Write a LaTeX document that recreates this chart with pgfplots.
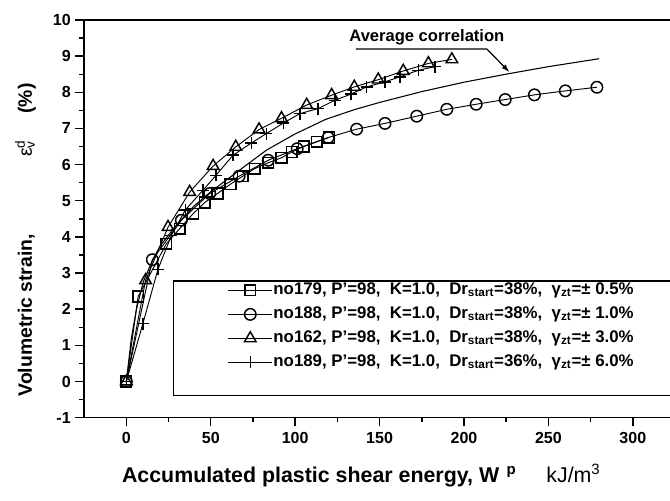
\documentclass[border=0pt]{standalone}
\usepackage{fontspec}
\setmainfont{Liberation Sans}
\usepackage{pgfplots}
\pgfplotsset{compat=1.18}
\usetikzlibrary{arrows.meta}

% Volumetric strain against accumulated plastic shear energy
\pgfplotstableread{
W      ev
0      0
7      2.35
23.7   3.81
31.6   4.23
39.5   4.64
46.4   4.95
54     5.20
61.7   5.46
69     5.68
76.1   5.89
84     6.05
91.9   6.19
98     6.35
105    6.50
112.7  6.63
120    6.75
}\noOneSevenNine

\pgfplotstableread{
W      ev
0      0
15.4   3.37
32.6   4.46
49.4   5.20
66.8   5.68
84     6.12
101.2  6.44
119.6  6.75
136.4  6.98
153.2  7.14
172    7.34
189.8  7.53
207.2  7.67
224.4  7.80
241.7  7.93
260    8.04
278.7  8.14
}\noOneEightEight

\pgfplotstableread{
W      ev
0      0
11.4   2.80
24.7   4.27
37.5   5.24
51.4   5.96
64.8   6.49
78.6   6.97
91.9   7.28
106.8  7.65
121.6  7.92
135    8.15
149.2  8.35
164    8.59
178.9  8.80
192.8  8.91
}\noOneSixTwo

\pgfplotstableread{
W      ev
0      0
9.8    1.60
18.7   3.10
26.7   4.04
35     4.75
45.4   5.29
53     5.70
63.2   6.26
74.1   6.60
83     6.86
93     7.15
102.8  7.41
113.6  7.55
123.5  7.78
133    7.95
142.3  8.15
153.2  8.29
162    8.43
173    8.61
182.9  8.71
}\noOneEightNine

\pgfplotstableread{
W      ev
0      0
3      1.20
6      2.00
10     2.75
15     3.30
20     3.75
30     4.35
40     4.85
50     5.25
60     5.60
70     5.95
83     6.40
100    6.85
118    7.25
135    7.52
150    7.72
175    8.02
200    8.28
227    8.52
250    8.71
280    8.93
}\avgcorr

\begin{document}
\begin{tikzpicture}
\begin{axis}[
  name=ax,
  scale only axis,
  width=438.75pt, height=297.75pt,
  xmin=-25, xmax=322, ymin=-1, ymax=10,
  axis y line*=left, axis x line*=box,
  xtick={0,50,...,300}, minor xtick={25,75,...,275},
  ytick={-1,0,...,10}, minor ytick={-0.5,0.5,...,9.5},
  xtick pos=bottom, ytick pos=left,
  tick align=outside,
  major tick length=6.5pt, minor tick length=3.5pt,
  every tick/.style={black, line width=1.1pt},
  axis line style={line width=1.2pt},
  /pgf/number format/assume math mode=true,
  tick label style={font=\bfseries\fontsize{12}{14}\selectfont},
  xticklabel style={yshift=-1pt},
  xlabel={Accumulated plastic shear energy, W\hspace{0.35em}\textsuperscript{p}\hspace{1.4em}{\mdseries kJ/m\textsuperscript{3}}},
  xlabel style={font=\bfseries\fontsize{16}{18}\selectfont, at={(axis description cs:0.473,-0.164)}, anchor=base},
  ylabel={Volumetric strain,\hspace{4em}{\mdseries ε\rlap{\textsuperscript{d}}\textsubscript{v}}\hspace{1.4em}(\%)},
  ylabel style={font=\bfseries\fontsize{14.5}{16}\selectfont, at={(axis description cs:-0.1,0.447)}, anchor=center, rotate=0},
  legend cell align=left,
  legend style={at={(0.152,0.345)}, anchor=north west, draw=black, line width=0.8pt,
    font=\bfseries\fontsize{12.6}{15}\selectfont,
    inner xsep=40.5pt, inner ysep=1pt, row sep=6pt, column sep=0pt,
    nodes={inner ysep=0pt, inner xsep=0.5pt, text height=9pt, text depth=3pt}},
  legend image code/.code={\draw[mark repeat=2, mark phase=2]
    plot coordinates {(0pt,0pt) (16.5pt,0pt) (33pt,0pt)};},
  every axis plot/.append style={line width=0.7pt},
  mark options={solid, fill=white, line width=1.1pt},
]

% average correlation
\addplot[black, line width=0.8pt, forget plot] table[x=W, y=ev] {\avgcorr};

\addplot[black, mark=square, mark size=4pt] table[x=W, y=ev] {\noOneSevenNine};
\addlegendentry{{no179, P'=98,\ \ K=1.0,\ \ Dr\textsubscript{start}=38\%,\ \ γ\textsubscript{zt}=± 0.5\%}}

\addplot[black, mark=o, mark size=4.3pt] table[x=W, y=ev] {\noOneEightEight};
\addlegendentry{{no188, P'=98,\ \ K=1.0,\ \ Dr\textsubscript{start}=38\%,\ \ γ\textsubscript{zt}=± 1.0\%}}

\addplot[black, mark=triangle, mark size=5pt] table[x=W, y=ev] {\noOneSixTwo};
\addlegendentry{{no162, P'=98,\ \ K=1.0,\ \ Dr\textsubscript{start}=38\%,\ \ γ\textsubscript{zt}=± 3.0\%}}

\addplot[black, mark=+, mark size=4.5pt] table[x=W, y=ev] {\noOneEightNine};
\addlegendentry{{no189, P'=98,\ \ K=1.0,\ \ Dr\textsubscript{start}=36\%,\ \ γ\textsubscript{zt}=± 6.0\%}}

\addlegendimage{empty legend}
\addlegendentry{}

% label for the average curve
\node[font=\bfseries\fontsize{12.4}{14}\selectfont] at (axis cs:178,9.52) {Average correlation};
\draw[line width=0.9pt, -{Latex[length=6pt, width=4pt]}]
  (axis cs:136,9.2) -- (axis cs:213.5,9.2) -- (axis cs:226.9,8.56);
\end{axis}
\pgfresetboundingbox
\path[use as bounding box] ([xshift=-63pt, yshift=-62.25pt]ax.south west) rectangle ([yshift=15pt]ax.north east);
\end{tikzpicture}
\end{document}
